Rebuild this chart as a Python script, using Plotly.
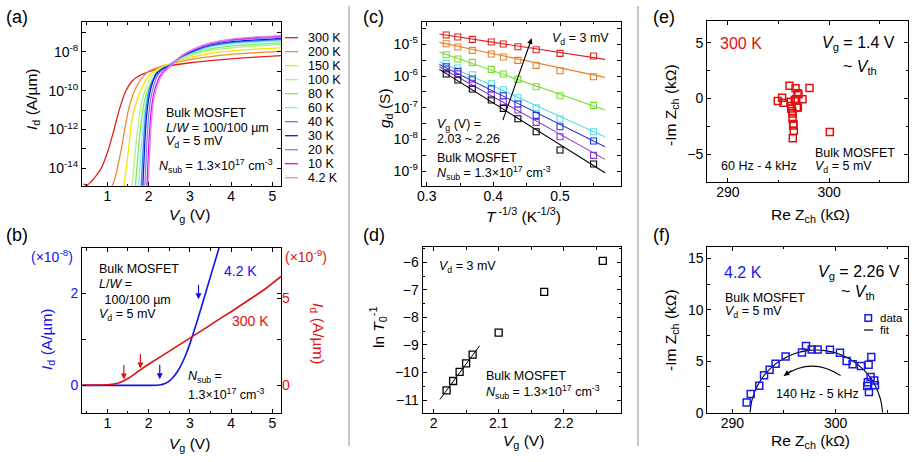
import plotly.graph_objects as go
import numpy as np

W, H = 915, 462
FONT = "Liberation Sans, Arial, Helvetica, sans-serif"


def px(x):
    return x / W


def py(y):
    return 1 - y / H


# ---------------- (a) Id-Vg, log scale, several temperatures ----------------
a_labels = ["300 K", "200 K", "150 K", "100 K", "80 K", "60 K", "40 K", "30 K", "20 K", "10 K", "4.2 K"]
a_colors = ["#e32020", "#ee8a3a", "#f2e600", "#b5f08a", "#80e860", "#80f0f0",
            "#4488ee", "#0a1ee0", "#7a88f0", "#dd10dd", "#f080f0"]

a_vg_300K = [0.42, 0.5, 0.6, 0.72, 0.85, 1.0, 1.15, 1.3, 1.45, 1.6, 1.8, 2.1, 2.5, 3.0, 3.5, 4.0, 4.6, 5.21]
a_logid_300K = [-14.8, -14.88, -14.7, -14.4, -14.0, -13.2, -12.1, -10.9, -10.0, -9.5, -9.2, -8.95, -8.72, -8.56, -8.45, -8.36, -8.27, -8.19]
a_vg_200K = [1.12, 1.2, 1.27, 1.34, 1.42, 1.5, 1.58, 1.68, 1.8, 2.0, 2.25, 2.5, 3.0, 3.5, 4.0, 4.6, 5.21]
a_logid_200K = [-14.9, -14.4, -13.7, -13.0, -12.0, -11.1, -10.45, -9.9, -9.45, -9.0, -8.78, -8.64, -8.4, -8.24, -8.13, -8.04, -7.97]
a_vg_150K = [1.40, 1.46, 1.52, 1.58, 1.66, 1.75, 1.85, 1.97, 2.1, 2.3, 2.5, 3.0, 3.5, 4.0, 4.6, 5.21]
a_logid_150K = [-14.9, -14.0, -12.9, -11.7, -10.9, -10.3, -9.8, -9.35, -9.05, -8.8, -8.63, -8.3, -8.07, -7.95, -7.86, -7.79]
a_vg_100K = [1.60, 1.65, 1.70, 1.76, 1.83, 1.92, 2.02, 2.15, 2.3, 2.5, 2.8, 3.2, 3.5, 4.0, 4.6, 5.21]
a_logid_100K = [-14.9, -13.8, -12.6, -11.5, -10.6, -9.95, -9.45, -9.1, -8.85, -8.64, -8.35, -8.08, -7.92, -7.8, -7.7, -7.62]
a_vg_80K = [1.68, 1.73, 1.78, 1.84, 1.91, 2.0, 2.1, 2.22, 2.35, 2.5, 2.8, 3.2, 3.5, 4.0, 4.6, 5.21]
a_logid_80K = [-14.9, -13.6, -12.4, -11.3, -10.45, -9.85, -9.4, -9.1, -8.86, -8.66, -8.3, -8.0, -7.84, -7.7, -7.61, -7.54]
a_vg_60K = [1.76, 1.80, 1.84, 1.89, 1.96, 2.05, 2.15, 2.27, 2.38, 2.5, 2.8, 3.2, 3.5, 4.0, 4.6, 5.21]
a_logid_60K = [-14.9, -13.6, -12.4, -11.3, -10.4, -9.75, -9.32, -9.05, -8.86, -8.68, -8.27, -7.93, -7.76, -7.6, -7.51, -7.45]
a_vg_40K = [1.82, 1.855, 1.89, 1.93, 1.99, 2.07, 2.17, 2.28, 2.39, 2.5, 2.8, 3.2, 3.5, 4.0, 4.6, 5.21]
a_logid_40K = [-14.9, -13.5, -12.2, -11.1, -10.2, -9.6, -9.25, -9.0, -8.84, -8.7, -8.25, -7.88, -7.69, -7.53, -7.44, -7.37]
a_vg_30K = [1.86, 1.89, 1.92, 1.96, 2.02, 2.1, 2.19, 2.3, 2.4, 2.5, 2.8, 3.2, 3.5, 4.0, 4.6, 5.21]
a_logid_30K = [-14.9, -13.5, -12.2, -11.1, -10.2, -9.55, -9.1, -8.92, -8.8, -8.72, -8.24, -7.84, -7.64, -7.47, -7.38, -7.31]
a_vg_20K = [1.91, 1.94, 1.97, 2.01, 2.07, 2.15, 2.24, 2.34, 2.43, 2.5, 2.8, 3.2, 3.5, 4.0, 4.6, 5.21]
a_logid_20K = [-14.9, -13.5, -12.2, -11.1, -10.2, -9.55, -9.15, -8.95, -8.83, -8.74, -8.22, -7.8, -7.6, -7.42, -7.32, -7.25]
a_vg_10K = [1.96, 1.99, 2.02, 2.06, 2.12, 2.2, 2.29, 2.38, 2.45, 2.5, 2.8, 3.2, 3.5, 4.0, 4.6, 5.21]
a_logid_10K = [-14.9, -13.5, -12.2, -11.1, -10.2, -9.6, -9.2, -8.98, -8.85, -8.76, -8.2, -7.77, -7.56, -7.37, -7.26, -7.19]
a_vg_4K = [1.99, 2.02, 2.05, 2.09, 2.15, 2.23, 2.32, 2.4, 2.46, 2.5, 2.8, 3.2, 3.5, 4.0, 4.6, 5.21]
a_logid_4K = [-14.9, -13.5, -12.2, -11.1, -10.2, -9.62, -9.22, -9.0, -8.87, -8.78, -8.19, -7.75, -7.54, -7.34, -7.23, -7.16]

a_vg_all = [a_vg_300K, a_vg_200K, a_vg_150K, a_vg_100K, a_vg_80K, a_vg_60K,
            a_vg_40K, a_vg_30K, a_vg_20K, a_vg_10K, a_vg_4K]
a_log_all = [a_logid_300K, a_logid_200K, a_logid_150K, a_logid_100K, a_logid_80K, a_logid_60K,
             a_logid_40K, a_logid_30K, a_logid_20K, a_logid_10K, a_logid_4K]
a_ytick_exp = [-14, -13, -12, -11, -10, -9, -8, -7]

# ---------------- (b) Id-Vg, linear scale ----------------
b_vg_4K = [0.4, 1.5, 2.0, 2.2, 2.3, 2.4, 2.5, 2.6, 2.7, 2.8, 2.9, 3.0, 3.2, 3.4, 3.6, 3.72]
b_id_4K = [0, 0, 0, 0.003, 0.015, 0.04, 0.09, 0.18, 0.3, 0.46, 0.66, 0.9, 1.46, 2.06, 2.66, 3.02]  # x1e-8 A/um
b_vg_300K = [0.4, 1.0, 1.2, 1.35, 1.5, 1.65, 1.8, 2.0, 2.4, 2.8, 3.2, 3.6, 4.0, 4.4, 4.8, 5.21]
b_id_300K = [0, 0.02, 0.08, 0.2, 0.38, 0.62, 0.88, 1.2, 1.8, 2.4, 3.0, 3.62, 4.22, 4.85, 5.48, 6.25]  # x1e-9 A/um
b_arrow_vg_300K = [1.4, 1.8]
b_arrow_id_300K = [0.32, 0.95]
b_arrow_vg_4K = [2.27, 3.21]
b_arrow_id_4K = [0.13, 1.87]

# ---------------- (c) gd vs T^-1/3 ----------------
c_x = [0.3293, 0.3467, 0.3684, 0.3969, 0.4149, 0.4368, 0.4642, 0.5, 0.5503]
c_colors = ["#dd2222", "#e8822a", "#77dd33", "#55dde8", "#2233dd", "#8a3ad0", "#000000"]
c_log_gd_1 = [-4.705, -4.768, -4.842, -4.926, -4.989, -5.074, -5.168, -5.284, -5.368]
c_log_gd_2 = [-4.979, -5.084, -5.189, -5.305, -5.4, -5.505, -5.663, -5.832, -6.021]
c_log_gd_3 = [-5.326, -5.463, -5.568, -5.789, -5.937, -6.105, -6.337, -6.621, -6.926]
c_log_gd_4 = [-5.6, -5.747, -5.958, -6.242, -6.432, -6.684, -7.0, -7.358, -7.758]
c_log_gd_5 = [-5.705, -5.853, -6.095, -6.4, -6.621, -6.884, -7.242, -7.6, -8.053]
c_log_gd_6 = [-5.779, -5.926, -6.232, -6.6, -6.811, -7.074, -7.463, -7.916, -8.505]
c_log_gd_7 = [-5.937, -6.126, -6.41, -6.758, -7.021, -7.347, -7.758, -8.337, -8.779]
c_fit_x = [0.319, 0.5675]
c_fit_1 = [-4.674, -5.474]
c_fit_2 = [-4.937, -6.042]
c_fit_3 = [-5.242, -7.074]
c_fit_4 = [-5.547, -7.916]
c_fit_5 = [-5.632, -8.232]
c_fit_6 = [-5.705, -8.632]
c_fit_7 = [-5.789, -9.053]
c_log_all = [c_log_gd_1, c_log_gd_2, c_log_gd_3, c_log_gd_4, c_log_gd_5, c_log_gd_6, c_log_gd_7]
c_fit_all = [c_fit_1, c_fit_2, c_fit_3, c_fit_4, c_fit_5, c_fit_6, c_fit_7]
c_ytick_exp = [-9, -8.5, -8, -7.5, -7, -6.5, -6, -5.5, -5, -4.5]

# ---------------- (d) ln T0^-1 vs Vg ----------------
d_vg = [2.02, 2.03, 2.04, 2.05, 2.06, 2.10, 2.17, 2.26]
d_ln_t0 = [-10.65, -10.31, -9.98, -9.67, -9.35, -8.55, -7.07, -5.95]
d_fit_vg = [2.0097, 2.0708]
d_fit_ln = [-10.98, -9.03]

# ---------------- (e) Nyquist 300 K ----------------
e_re = [294.93, 295.36, 295.49, 296.09, 296.22, 296.28, 296.25, 296.35, 296.41, 296.38, 296.45, 296.48,
        296.51, 296.41, 296.61, 296.68, 296.74, 296.81, 296.88, 296.97, 296.91, 297.37, 298.06, 300.07]
e_mim = [-0.24, 0.06, -0.39, 1.14, -0.30, -0.69, -0.90, -1.14, -1.35, -1.80, -2.43, -2.31,
         -2.90, -3.59, -0.15, 0.90, -0.06, -0.81, 0.45, 0.36, -0.81, -0.09, 0.93, -3.02]

# ---------------- (f) Nyquist 4.2 K ----------------
f_re = [291.39, 291.78, 292.61, 293.07, 293.61, 294.19, 295.16, 296.74, 297.13, 297.68, 298.26, 299.45,
        300.42, 301.06, 301.64, 302.45, 303.19, 303.45, 303.38, 303.06, 303.22, 303.12, 303.73, 303.80]
f_mim = [1.00, 1.81, 2.62, 3.63, 4.18, 4.76, 5.47, 5.86, 6.48, 6.15, 6.15, 6.12,
         5.83, 5.02, 4.70, 4.54, 4.66, 5.41, 3.47, 2.59, 2.01, 2.95, 3.14, 2.66]
f_fit_re = [291.715, 291.93, 292.43, 293.13, 294.13, 295.13, 296.13, 297.13, 298.13,
            299.13, 300.13, 301.13, 302.13, 303.13, 303.83, 304.33, 304.545]
f_fit_mim = [0.0, 1.33, 2.62, 3.69, 4.69, 5.34, 5.77, 6.01, 6.09,
             6.01, 5.77, 5.34, 4.69, 3.69, 2.62, 1.33, 0.0]

fig = go.Figure()

# (a)
for vg, lg, col in zip(a_vg_all, a_log_all, a_colors):
    fig.add_trace(go.Scatter(x=vg, y=10 ** np.array(lg), mode="lines",
                             line=dict(color=col, width=1.3, shape="spline", smoothing=0.7),
                             xaxis="x", yaxis="y", showlegend=False, hoverinfo="skip"))

# (b)
fig.add_trace(go.Scatter(x=b_vg_300K, y=b_id_300K, mode="lines", line=dict(color="#dd1111", width=1.6, shape="spline", smoothing=0.6),
                         xaxis="x2", yaxis="y7", showlegend=False))
fig.add_trace(go.Scatter(x=b_vg_4K, y=b_id_4K, mode="lines", line=dict(color="#1111ee", width=1.6, shape="spline", smoothing=0.6),
                         xaxis="x2", yaxis="y2", showlegend=False))

# (c)
for lg, ft, col in zip(c_log_all, c_fit_all, c_colors):
    fig.add_trace(go.Scatter(x=c_fit_x, y=10 ** np.array(ft), mode="lines", line=dict(color=col, width=1.1),
                             xaxis="x3", yaxis="y3", showlegend=False))
    fig.add_trace(go.Scatter(x=c_x, y=10 ** np.array(lg), mode="markers",
                             marker=dict(symbol="square-open", size=6, color=col, line=dict(width=1.1, color=col)),
                             xaxis="x3", yaxis="y3", showlegend=False))

# (d)
fig.add_trace(go.Scatter(x=d_fit_vg, y=d_fit_ln, mode="lines", line=dict(color="black", width=1),
                         xaxis="x4", yaxis="y4", showlegend=False))
fig.add_trace(go.Scatter(x=d_vg, y=d_ln_t0, mode="markers",
                         marker=dict(symbol="square-open", size=7, color="black", line=dict(width=1.3, color="black")),
                         xaxis="x4", yaxis="y4", showlegend=False))

# (e)
fig.add_trace(go.Scatter(x=e_re, y=e_mim, mode="markers",
                         marker=dict(symbol="square-open", size=7, color="#e01010", line=dict(width=1.5, color="#e01010")),
                         xaxis="x5", yaxis="y5", showlegend=False))

# (f)
fig.add_trace(go.Scatter(x=f_fit_re, y=f_fit_mim, mode="lines", line=dict(color="black", width=1.1, shape="spline"),
                         xaxis="x6", yaxis="y6", showlegend=False))
fig.add_trace(go.Scatter(x=f_re, y=f_mim, mode="markers",
                         marker=dict(symbol="square-open", size=7, color="#1a1ae6", line=dict(width=1.5, color="#1a1ae6")),
                         xaxis="x6", yaxis="y6", showlegend=False))

TICKFONT = dict(family=FONT, size=14, color="black")


def axis(domain, rng, anchor, **kw):
    d = dict(domain=domain, range=rng, anchor=anchor, showline=True, linecolor="black", linewidth=1,
             mirror="ticks", ticks="inside", ticklen=4, tickwidth=1, tickcolor="black",
             showgrid=False, zeroline=False, tickfont=TICKFONT, automargin=False)
    d.update(kw)
    return d


def xaxis(domain, rng, anchor, **kw):
    return axis(domain, rng, anchor, ticklabelstandoff=-3, **kw)


MINOR = dict(ticks="inside", ticklen=2.5, tickcolor="black", tickwidth=1, showgrid=False)

layout = dict(
    width=W, height=H, margin=dict(l=0, r=0, t=0, b=0), template="none",
    paper_bgcolor="white", plot_bgcolor="white", showlegend=False,
    font=dict(family=FONT, size=13, color="black"),
    xaxis=xaxis([px(82), px(281)], [0.385, 5.21], "y", tick0=0, dtick=1, minor=dict(MINOR, dtick=0.5)),
    yaxis=axis([py(186), py(22)], [-14.91, -6.46], "x", type="log",
               tickvals=[10.0 ** e for e in a_ytick_exp],
               ticktext=["10<sup>%d</sup>" % e if e % 2 == 0 else "" for e in a_ytick_exp]),
    xaxis2=xaxis([px(82), px(281)], [0.385, 5.21], "y2", tick0=0, dtick=1, minor=dict(MINOR, dtick=0.5)),
    yaxis2=axis([py(413), py(248)], [-0.6, 2.98], "x2", tickvals=[0, 1, 2], ticktext=["0", "", "2"],
                tickfont=dict(family=FONT, size=14, color="#1111ee")),
    yaxis7=axis([py(413), py(248)], [-1.6, 7.88], "x2", overlaying="y2", side="right", showline=False,
                mirror=False, tickvals=[0, 5], tickfont=dict(family=FONT, size=14, color="#dd1111")),
    xaxis3=xaxis([px(421.7), px(621)], [0.2925, 0.5915], "y3", tick0=0, dtick=0.1, minor=dict(MINOR, dtick=0.05)),
    yaxis3=axis([py(185.7), py(21.7)], [-9.463, -4.284], "x3", type="log",
                tickvals=[10.0 ** e for e in c_ytick_exp],
                ticktext=["10<sup>%d</sup>" % e if e == int(e) else "" for e in c_ytick_exp]),
    xaxis4=xaxis([px(422.5), px(621)], [1.983, 2.288], "y4",
                 tickvals=[2.0, 2.1, 2.2], ticktext=["2", "2.1", "2.2"], minor=dict(MINOR, tickvals=[2.05, 2.15, 2.25])),
    yaxis4=axis([py(412.7), py(247.3)], [-11.46, -5.455], "x4", tick0=0, dtick=1, minor=dict(MINOR, dtick=0.5)),
    xaxis5=xaxis([px(707), px(908)], [287.93, 307.8], "y5", tick0=290, dtick=10, minor=dict(MINOR, tick0=290, dtick=5)),
    yaxis5=axis([py(182.3), py(21)], [-7.54, 6.95], "x5", tick0=0, dtick=5, minor=dict(MINOR, tick0=0, dtick=2.5)),
    xaxis6=xaxis([px(707.3), px(908)], [287.58, 307.0], "y6", tick0=290, dtick=10, minor=dict(MINOR, tick0=290, dtick=5)),
    yaxis6=axis([py(412.7), py(246.7)], [0, 16.13], "x6", tick0=0, dtick=5, minor=dict(MINOR, tick0=0, dtick=2.5)),
)
fig.update_layout(**layout)

ann = []


def A(text, x, y, size=12.5, color="black", xanchor="left", yanchor="middle", angle=0):
    ann.append(dict(text=text, x=px(x), y=py(y), xref="paper", yref="paper", showarrow=False,
                    xanchor=xanchor, yanchor=yanchor, textangle=angle,
                    font=dict(family=FONT, size=size, color=color)))


# panel labels
for lab, x, y in [("(a)", 4, 17), ("(b)", 4, 235), ("(c)", 361, 17), ("(d)", 361, 235), ("(e)", 651, 17), ("(f)", 651, 235)]:
    A(lab, x, y, size=18)

# axis titles
TS = 15.5
A("<i>V</i><sub>g</sub> (V)", 189, 215, size=TS, xanchor="center")
A("<i>I</i><sub>d</sub> (A/µm)", 32, 100, size=TS, xanchor="center", angle=-90)
A("<i>V</i><sub>g</sub> (V)", 189, 444, size=TS, xanchor="center")
A("<i>I</i><sub>d</sub> (A/µm)", 47, 340, size=TS, color="#1111ee", xanchor="center", angle=-90)
A("<i>I</i><sub>d</sub> (A/µm)", 318, 333, size=TS, color="#dd1111", xanchor="center", angle=90)
A("<i>T</i><sup> -1/3</sup> (K<sup>-1/3</sup>)", 523, 215, size=TS, xanchor="center")
A("<i>g</i><sub>d</sub> (S)", 386, 108, size=TS, xanchor="center", angle=-90)
A("<i>V</i><sub>g</sub> (V)", 523, 441, size=TS, xanchor="center")
A("ln <i>T</i><sub>0</sub><sup>-1</sup>", 378, 327, size=TS, xanchor="center", angle=-90)
A("Re Z<sub>ch</sub> (kΩ)", 810, 215, size=TS, xanchor="center")
A("-Im Z<sub>ch</sub> (kΩ)", 671, 105, size=TS, xanchor="center", angle=-90)
A("Re Z<sub>ch</sub> (kΩ)", 810, 441, size=TS, xanchor="center")
A("-Im Z<sub>ch</sub> (kΩ)", 671, 330, size=TS, xanchor="center", angle=-90)

# (a) texts
A("Bulk MOSFET", 164, 113)
A("<i>L</i>/<i>W</i> = 100/100 µm", 164, 127.5)
A("<i>V</i><sub>d</sub> = 5 mV", 164, 142)
A("<i>N</i><sub>sub</sub> = 1.3×10<sup>17</sup> cm<sup>-3</sup>", 157, 166)
shapes = []
for i, (lab, col) in enumerate(zip(a_labels, a_colors)):
    yy = 37.7 + 14.0 * i
    shapes.append(dict(type="line", xref="paper", yref="paper", x0=px(285), x1=px(298), y0=py(yy), y1=py(yy),
                       line=dict(color=col, width=1.3)))
    A(lab, 306, yy)

# (b) texts
A("(×10<sup>-8</sup>)", 52, 256, size=14, color="#1111ee", xanchor="center")
A("(×10<sup>-9</sup>)", 306, 256, size=14, color="#dd1111", xanchor="center")
A("Bulk MOSFET", 97, 269)
A("<i>L</i>/<i>W</i> =", 97, 284)
A(" 100/100 µm", 99, 300)
A("<i>V</i><sub>d</sub> = 5 mV", 97, 315)
A("4.2 K", 240, 271, size=14, color="#1111ee", xanchor="center")
A("300 K", 250, 321, size=14, color="#dd1111", xanchor="center")
A("<i>N</i><sub>sub</sub> =", 186, 377)
A("1.3×10<sup>17</sup> cm<sup>-3</sup>", 186, 394)
for xv, yv in zip(b_arrow_vg_300K, b_arrow_id_300K):
    ann.append(dict(x=xv, y=yv, xref="x2", yref="y7", ax=0, ay=-16, text="", showarrow=True,
                    arrowhead=2, arrowsize=1, arrowwidth=1.2, arrowcolor="#dd1111"))
for xv, yv in zip(b_arrow_vg_4K, b_arrow_id_4K):
    ann.append(dict(x=xv, y=yv, xref="x2", yref="y2", ax=0, ay=-16, text="", showarrow=True,
                    arrowhead=2, arrowsize=1, arrowwidth=1.2, arrowcolor="#1111ee"))

# (c) texts
A("<i>V</i><sub>d</sub> = 3 mV", 611, 39, xanchor="right")
A("<i>V</i><sub>g</sub> (V) =", 435, 125)
A("2.03 ~ 2.26", 435, 139)
A("Bulk MOSFET", 435, 158)
A("<i>N</i><sub>sub</sub> = 1.3×10<sup>17</sup> cm<sup>-3</sup>", 435, 173)
ann.append(dict(x=0.4575, y=-4.81, xref="x3", yref="y3", ax=0.4135, ay=-7.44, axref="x3", ayref="y3",
                text="", showarrow=True, arrowhead=2, arrowsize=1, arrowwidth=1.1, arrowcolor="black"))

# (d) texts
A("<i>V</i><sub>d</sub> = 3 mV", 437, 267)
A("Bulk MOSFET", 484, 376)
A("<i>N</i><sub>sub</sub> = 1.3×10<sup>17</sup> cm<sup>-3</sup>", 484, 392)

# (e) texts
A("300 K", 718, 43, size=16, color="#e01010")
A("<i>V</i><sub>g</sub> = 1.4 V", 897, 43, size=16, xanchor="right")
A("~ <i>V</i><sub>th</sub>", 860, 67, size=16, xanchor="center")
A("60 Hz - 4 kHz", 719, 166)
A("Bulk MOSFET", 813, 153)
A("<i>V</i><sub>d</sub> = 5 mV", 813, 167)

# (f) texts
A("4.2 K", 722, 272, size=16, color="#1a1ae6")
A("<i>V</i><sub>g</sub> = 2.26 V", 902, 272, size=16, xanchor="right")
A("~ <i>V</i><sub>th</sub>", 858, 292, size=16, xanchor="center")
A("Bulk MOSFET", 723, 298)
A("<i>V</i><sub>d</sub> = 5 mV", 723, 312)
A("data", 878, 318, size=11.5)
A("fit", 878, 330, size=11.5)
A("140 Hz - 5 kHz", 774, 394)
shapes.append(dict(type="rect", xref="paper", yref="paper", x0=px(865), x1=px(871.5), y0=py(321.3), y1=py(314.8),
                   line=dict(color="#1a1ae6", width=1.5)))
shapes.append(dict(type="line", xref="paper", yref="paper", x0=px(864), x1=px(873), y0=py(330), y1=py(330),
                   line=dict(color="black", width=1.2)))
# curved frequency arrow in (f)
f_arrow_start = (300.48, 3.6)
f_arrow_ctrl = (297.7, 5.46)
f_arrow_end = (294.99, 3.6)
shapes.append(dict(type="path", xref="x6", yref="y6",
                   path="M %g,%g Q %g,%g %g,%g" % (f_arrow_start + f_arrow_ctrl + f_arrow_end),
                   line=dict(color="black", width=1.1)))
ann.append(dict(x=f_arrow_end[0], y=f_arrow_end[1], xref="x6", yref="y6", ax=9, ay=-6, text="",
                showarrow=True, arrowhead=2, arrowsize=1, arrowwidth=1.1, arrowcolor="black"))

# separators
for xs in [349, 638]:
    shapes.append(dict(type="line", xref="paper", yref="paper", x0=px(xs), x1=px(xs), y0=py(6), y1=py(446),
                       line=dict(color="#c8c8c8", width=2)))

fig.update_layout(annotations=ann, shapes=shapes)
fig.write_html("out.html")
